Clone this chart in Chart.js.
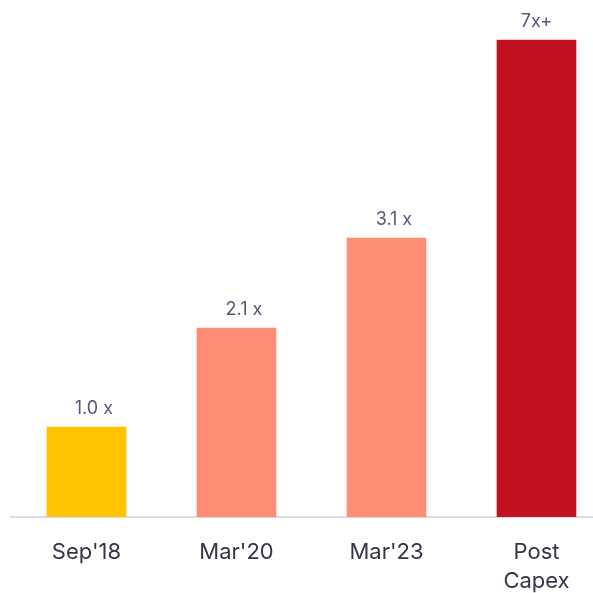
<!DOCTYPE html>
<html>
<head>
<meta charset="utf-8">
<script src="https://cdn.jsdelivr.net/npm/chart.js@4/dist/chart.umd.min.js"></script>
<style>
    html, body { margin: 0; padding: 0; background: #ffffff; }
    #wrap { width: 593px; height: 593px; }
</style>
</head>
<body>
<div id="wrap"><canvas id="multipleChart"></canvas></div>
<script>
// categories and values
var categories = ["Sep'18", "Mar'20", "Mar'23", ["Post", "Capex"]];
var multiples = [1.0, 2.1, 3.1, 5.3];   // drawn heights (last bar is not to scale)
var valueText = ['1.0', '2.1', '3.1', '7x+'];
var valueSuffix = ['x', 'x', 'x', ''];
var barColors = ['#ffc300', '#ff8c75', '#ff8c75', '#c1111f'];

var FONT = 'Inter, "Noto Sans", sans-serif';

// Draw the "1.0 x" style labels above each bar.
var valueLabels = {
    id: 'valueLabels',
    afterDatasetsDraw: function(chart) {
        var ctx = chart.ctx;
        var meta = chart.getDatasetMeta(0);
        ctx.save();
        ctx.fillStyle = '#56567a';
        ctx.font = '18px ' + FONT;
        ctx.textBaseline = 'alphabetic';
        meta.data.forEach(function(bar, i) {
            var txt = valueText[i];
            var y = bar.y - 13;
            ctx.textAlign = 'center';
            ctx.fillText(txt, bar.x, y);
            if (valueSuffix[i]) {
                var w = ctx.measureText(txt).width;
                ctx.textAlign = 'left';
                ctx.fillText(valueSuffix[i], bar.x + w / 2 + 5, y);
            }
        });
        ctx.restore();
    }
};

var points = multiples.map(function(v, i) {
    return { x: i, y: v };
});

new Chart(document.getElementById('multipleChart').getContext('2d'), {
    type: 'bar',
    data: {
        datasets: [{
            data: points,
            backgroundColor: barColors,
            borderWidth: 0,
            barThickness: 79
        }]
    },
    options: {
        responsive: true,
        maintainAspectRatio: false,
        animation: false,
        layout: {
            padding: { top: 13, left: 11, right: 0, bottom: 0 }
        },
        plugins: {
            legend: { display: false },
            tooltip: { enabled: false }
        },
        scales: {
            x: {
                type: 'linear',
                offset: false,
                min: -0.5033,
                max: 3.3767,
                grid: { display: false, drawTicks: false },
                border: { display: true, color: '#dcd9e6', width: 2 },
                afterBuildTicks: function(scale) {
                    scale.ticks = [0, 1, 2, 3].map(function(v) { return { value: v }; });
                },
                afterFit: function(scale) {
                    scale.height = 76;
                },
                ticks: {
                    autoSkip: false,
                    maxRotation: 0,
                    padding: 21,
                    color: '#34344a',
                    font: { family: FONT, size: 22, lineHeight: 1.32 },
                    callback: function(v) { return categories[v]; }
                }
            },
            y: {
                display: false,
                min: 0,
                max: 5.6
            }
        }
    },
    plugins: [valueLabels]
});
</script>
</body>
</html>
